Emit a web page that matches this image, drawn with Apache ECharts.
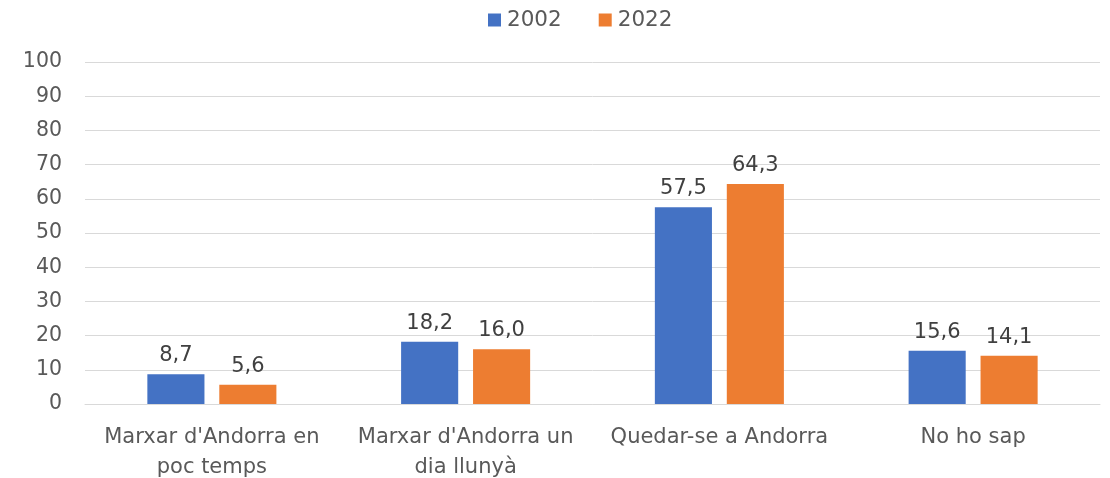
<!DOCTYPE html>
<html><head><meta charset="utf-8">
<script src="https://cdn.jsdelivr.net/npm/echarts@6/dist/echarts.min.js"></script>
<style>html,body{margin:0;padding:0;background:#fff}#c{width:1110px;height:478px}</style>
</head><body><div id="c"></div>
<script>
const categories = ["Marxar d'Andorra en\npoc temps", "Marxar d'Andorra un\ndia llunyà", "Quedar-se a Andorra", "No ho sap"];
const series2002 = [8.7, 18.2, 57.5, 15.6];
const series2022 = [5.6, 16.0, 64.3, 14.1];
const seriesNames = ["2002", "2022"];
const colors = ["#4472C4", "#ED7D31"];
const FONT = "DejaVu Sans";
const fmt = p => p.value.toFixed(1).replace('.', ',');
const chart = echarts.init(document.getElementById('c'), null, {renderer: 'canvas'});
chart.setOption({
  animation: false,
  textStyle: {fontFamily: FONT},
  legend: {
    top: 4, left: 483, itemWidth: 13, itemHeight: 13, itemGap: 37,
    icon: 'rect',
    textStyle: {fontSize: 21.5, color: '#595959', fontFamily: FONT, padding: [0, 0, 0, 1]},
    data: seriesNames
  },
  grid: {left: 85, right: 10, top: 62, bottom: 74, outerBoundsMode: 'none', containLabel: false},
  xAxis: {
    type: 'category', data: categories,
    axisLine: {lineStyle: {color: '#d9d9d9', width: 1}},
    axisTick: {show: false},
    axisLabel: {fontSize: 21, color: '#595959', lineHeight: 30, margin: 19, interval: 0, fontFamily: FONT}
  },
  yAxis: {
    type: 'value', min: 0, max: 100, interval: 10,
    axisLine: {show: false}, axisTick: {show: false},
    splitLine: {lineStyle: {color: '#d9d9d9', width: 1}},
    axisLabel: {fontSize: 20.5, color: '#595959', margin: 23, fontFamily: FONT}
  },
  series: [
    {name: seriesNames[0], type: 'bar', data: series2002, barWidth: '22.5%', barGap: '26%',
     itemStyle: {color: colors[0]},
     label: {show: true, position: 'top', distance: 8, fontSize: 21, color: '#404040', formatter: fmt, fontFamily: FONT}},
    {name: seriesNames[1], type: 'bar', data: series2022, barWidth: '22.5%', barGap: '26%',
     itemStyle: {color: colors[1]},
     label: {show: true, position: 'top', distance: 8, fontSize: 21, color: '#404040', formatter: fmt, fontFamily: FONT}}
  ]
});
</script></body></html>
